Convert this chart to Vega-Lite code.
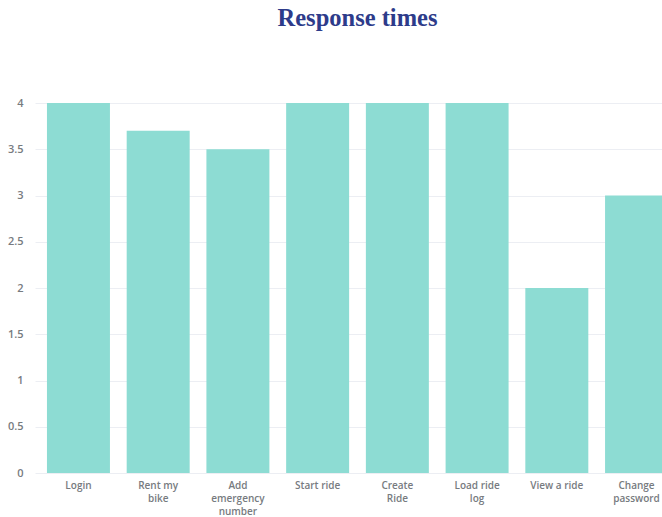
{
  "$schema": "https://vega.github.io/schema/vega-lite/v6.json",
  "autosize": "none",
  "width": 645,
  "height": 370,
  "padding": {"left": 35, "top": 103, "right": 0, "bottom": 44},
  "background": "white",
  "title": {
    "text": "Response times",
    "font": "Liberation Serif",
    "fontSize": 24.5,
    "fontWeight": "bold",
    "color": "#2d3b8a",
    "anchor": "middle",
    "offset": 66
  },
  "data": {
    "values": [
      {"task": "Login", "seconds": 4},
      {"task": "Rent my bike", "seconds": 3.7},
      {"task": "Add emergency number", "seconds": 3.5},
      {"task": "Start ride", "seconds": 4},
      {"task": "Create Ride", "seconds": 4},
      {"task": "Load ride log", "seconds": 4},
      {"task": "View a ride", "seconds": 2},
      {"task": "Change password", "seconds": 3}
    ]
  },
  "mark": {"type": "bar", "color": "#8ddcd3"},
  "encoding": {
    "x": {
      "field": "task",
      "type": "nominal",
      "sort": null,
      "scale": {"paddingInner": 0.21, "paddingOuter": 0.15},
      "axis": {
        "title": null,
        "labelAngle": 0,
        "domain": false,
        "ticks": false,
        "labelPadding": 7,
        "labelFont": "Open Sans",
        "labelFontSize": 10,
        "labelFontWeight": 600,
        "labelColor": "#777b80",
        "labelLineHeight": 13,
        "labelExpr": "datum.label == 'Rent my bike' ? ['Rent my', 'bike'] : datum.label == 'Add emergency number' ? ['Add', 'emergency', 'number'] : datum.label == 'Create Ride' ? ['Create', 'Ride'] : datum.label == 'Load ride log' ? ['Load ride', 'log'] : datum.label == 'Change password' ? ['Change', 'password'] : datum.label"
      }
    },
    "y": {
      "field": "seconds",
      "type": "quantitative",
      "scale": {"domain": [0, 4], "nice": false},
      "axis": {
        "title": null,
        "values": [0, 0.5, 1, 1.5, 2, 2.5, 3, 3.5, 4],
        "format": "~g",
        "domain": false,
        "ticks": false,
        "labelPadding": 12,
        "labelFont": "Open Sans",
        "labelFontSize": 11,
        "labelFontWeight": 600,
        "labelColor": "#777b80",
        "gridColor": "#eceef3",
        "gridWidth": 1
      }
    }
  },
  "config": {"view": {"stroke": null}}
}
